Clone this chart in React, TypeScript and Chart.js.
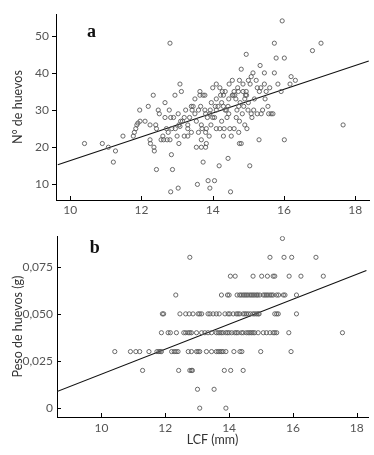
import React, { useEffect, useRef } from "react";
import { Chart, registerables } from "chart.js";
Chart.register(...registerables);

// Panel a: LCF (mm) vs N° de huevos
const lcfA = [
  10.4, 10.9, 11.07, 11.21, 11.27, 11.48, 11.77, 11.8, 11.84, 11.87, 11.9, 11.96, 11.95, 12.1, 12.19, 12.24, 12.24, 12.25,
  12.33, 12.35, 12.36, 12.4, 12.42, 12.42, 12.47, 12.5, 12.6, 12.62, 12.66, 12.66, 12.7, 12.72, 12.75, 12.78, 12.8, 12.82,
  12.84, 12.87, 12.82, 12.8, 12.85, 12.94, 13.0, 13.03, 13.05, 13.08, 13.12, 13.03, 13.05, 13.1, 13.15, 13.2, 13.2, 13.24,
  13.08, 13.3, 13.3, 13.35, 13.4, 13.4, 13.42, 13.45, 13.5, 13.54, 13.57, 13.54, 13.64, 13.64, 13.66, 13.68, 13.7, 13.68,
  13.73, 13.73, 13.68, 13.78, 13.78, 13.8, 13.8, 13.82, 13.8, 13.82, 13.87, 13.9, 13.92, 13.92, 13.85, 13.93, 13.96, 14.0,
  14.0, 14.05, 14.05, 14.07, 14.1, 14.1, 14.1, 14.15, 14.18, 14.2, 14.22, 14.25, 14.27, 14.3, 14.3, 14.32, 14.3, 14.35,
  14.38, 14.43, 14.43, 14.45, 14.48, 14.46, 14.5, 14.52, 14.55, 14.57, 14.6, 14.6, 14.62, 14.66, 14.68, 14.7, 14.72, 14.73,
  14.73, 14.75, 14.75, 14.77, 14.8, 14.8, 14.83, 14.85, 14.87, 14.9, 14.92, 14.94, 14.94, 14.96, 14.99, 15.0, 15.0, 15.04,
  15.08, 15.08, 15.1, 15.13, 15.17, 15.22, 15.3, 15.31, 15.33, 15.36, 15.4, 15.45, 15.45, 15.47, 15.5, 15.55, 15.57, 15.6,
  15.64, 15.69, 15.73, 15.73, 15.78, 15.83, 15.92, 15.95, 16.01, 16.01, 16.17, 16.2, 16.32, 16.8, 17.04, 17.66,
  14.2, 14.35, 14.55, 14.65, 14.9, 15.25, 14.4, 14.25, 13.95, 14.75, 15.15, 15.25, 14.95, 13.6, 13.5, 12.55, 12.95, 12.9,
  13.3, 13.6, 14.1, 14.85, 15.05, 15.35, 14.45,
];
const huevosA = [
  21, 21, 20, 16, 19, 23, 23, 24, 25, 26, 26.5, 27, 30, 27, 31, 26, 22, 21,
  34, 20, 19, 26, 25, 14, 30, 29, 23, 22, 32, 28, 25, 22, 24, 30, 48, 28,
  18, 14, 8, 22, 25, 34, 23, 29, 21, 37, 35, 9, 26, 27, 27, 28, 23, 30,
  25.6, 25, 26, 28, 24, 31, 30, 31, 33, 20, 10, 27, 35, 34, 31, 22, 25, 26,
  34, 16, 20, 30, 34, 29, 24, 25, 20, 21, 11, 23, 9, 29, 28, 30, 32, 36,
  28, 28, 11, 31, 30, 37, 33, 31, 15, 25, 34, 32, 35, 34, 23, 25, 31, 30,
  30, 31, 17, 33, 25, 37, 8, 23, 38, 34, 35, 25, 34, 28, 30, 36, 35, 24,
  31, 27, 21, 32, 41, 21, 29, 37, 31, 26, 34, 45, 35, 25, 30, 38, 32, 15,
  39, 29, 28, 40, 33, 38, 22, 35, 42, 29, 30, 40, 37, 33, 35, 31, 29, 36,
  29, 29, 40, 48, 44, 37, 35, 54, 44, 22, 37, 39, 38, 46, 48, 26,
  36, 35, 34, 33, 33, 36, 28, 27, 26, 38, 30, 29, 34, 30, 29, 22, 25, 28,
  23, 24, 25, 35, 37, 36, 29,
];

// Panel b: LCF (mm) vs Peso de huevos (g)
const lcfB = [
  15.67,
  12.77, 15.28, 15.72, 15.96, 16.72,
  14.04, 14.19, 14.75, 15.02, 15.2, 15.38, 15.43, 15.88, 16.25, 16.95,
  12.33, 13.76, 13.95, 14.0, 14.25, 14.33, 14.38, 14.44, 14.49, 14.54, 14.59, 14.65, 14.7, 14.75, 14.8, 14.86,
  14.9, 14.96, 15.07, 15.12, 15.17, 15.22, 15.28, 15.33, 15.38, 15.49, 15.55, 15.7, 15.75, 16.11,
  11.91, 11.95, 12.46, 12.64, 12.75, 12.87, 13.03, 13.08, 13.14, 13.34, 13.4, 13.5, 13.6, 13.69,
  13.87, 13.97, 14.02, 14.13, 14.23, 14.28, 14.33, 14.44, 14.49, 14.54, 14.6, 14.67, 14.75, 14.8, 14.86, 14.91, 14.94,
  15.43, 15.49, 15.54, 16.11,
  11.88, 12.09, 12.16, 12.35, 12.58, 12.64, 12.72, 12.77, 12.82, 12.98, 13.14, 13.24, 13.34, 13.45,
  13.6, 13.66, 13.71, 13.76, 13.81, 13.9, 13.95, 14.0, 14.08, 14.18, 14.23, 14.28, 14.39, 14.44, 14.54, 14.6,
  14.65, 14.7, 14.75, 14.8, 14.91, 15.07, 15.17, 15.28, 15.38, 15.43, 15.49, 15.87, 17.55,
  10.42, 10.91, 11.08, 11.2, 11.49, 11.74, 11.8, 11.84, 11.88, 12.2, 12.28, 12.34, 12.4, 12.72, 12.82, 12.98,
  13.03, 13.08, 13.29, 13.45, 13.6, 13.66, 13.71, 13.76, 13.81, 13.9, 14.15, 14.34, 14.4, 14.99, 15.94,
  11.29, 12.42, 12.77, 12.82, 12.85, 13.85, 14.05, 14.44,
  13.01, 13.53,
  13.08, 13.9,
];
const pesoB = [
  0.09,
  0.08, 0.08, 0.08, 0.08, 0.08,
  0.07, 0.07, 0.07, 0.07, 0.07, 0.07, 0.07, 0.07, 0.07, 0.07,
  0.06, 0.06, 0.06, 0.06, 0.06, 0.06, 0.06, 0.06, 0.06, 0.06, 0.06, 0.06, 0.06, 0.06, 0.06, 0.06,
  0.06, 0.06, 0.06, 0.06, 0.06, 0.06, 0.06, 0.06, 0.06, 0.06, 0.06, 0.06, 0.06, 0.06,
  0.05, 0.05, 0.05, 0.05, 0.05, 0.05, 0.05, 0.05, 0.05, 0.05, 0.05, 0.05, 0.05, 0.05,
  0.05, 0.05, 0.05, 0.05, 0.05, 0.05, 0.05, 0.05, 0.05, 0.05, 0.05, 0.05, 0.05, 0.05, 0.05, 0.05, 0.05,
  0.05, 0.05, 0.05, 0.05,
  0.04, 0.04, 0.04, 0.04, 0.04, 0.04, 0.04, 0.04, 0.04, 0.04, 0.04, 0.04, 0.04, 0.04,
  0.04, 0.04, 0.04, 0.04, 0.04, 0.04, 0.04, 0.04, 0.04, 0.04, 0.04, 0.04, 0.04, 0.04, 0.04, 0.04,
  0.04, 0.04, 0.04, 0.04, 0.04, 0.04, 0.04, 0.04, 0.04, 0.04, 0.04, 0.04, 0.04,
  0.03, 0.03, 0.03, 0.03, 0.03, 0.03, 0.03, 0.03, 0.03, 0.03, 0.03, 0.03, 0.03, 0.03, 0.03, 0.03,
  0.03, 0.03, 0.03, 0.03, 0.03, 0.03, 0.03, 0.03, 0.03, 0.03, 0.03, 0.03, 0.03, 0.03, 0.03,
  0.02, 0.02, 0.02, 0.02, 0.02, 0.02, 0.02, 0.02,
  0.01, 0.01,
  0, 0,
];

// Regression lines (end points)
const lineAx = [9.65, 18.38];
const lineAy = [15.3, 43.2];
const lineBx = [8.61, 18.3];
const lineBy = [0.0088, 0.073];

// Ticks
const xTicks = [10, 12, 14, 16, 18];
const yTicksA = [10, 20, 30, 40, 50];
const yTicksB = [0, 0.025, 0.05, 0.075];
const yLabelsB = ["0", "0,025", "0,050", "0,075"];

const FONT = "Lato, 'Open Sans', sans-serif";

const tickMarks = {
  id: "tickMarks",
  afterDraw(chart: any, _a: any, opts: any) {
    const ctx = chart.ctx;
    const { x, y } = chart.scales;
    const ca = chart.chartArea;
    ctx.save();
    ctx.strokeStyle = "#000";
    ctx.lineWidth = 1;
    ctx.beginPath();
    x.ticks.forEach((t: any) => {
      const px = Math.round(x.getPixelForValue(t.value)) + 0.5;
      ctx.moveTo(px, ca.bottom);
      ctx.lineTo(px, ca.bottom + opts.xDir * opts.len);
    });
    y.ticks.forEach((t: any) => {
      const py = Math.round(y.getPixelForValue(t.value)) + 0.5;
      ctx.moveTo(ca.left, py);
      ctx.lineTo(ca.left + opts.yDir * opts.len, py);
    });
    ctx.stroke();
    ctx.restore();
  },
};

const panelLetter = {
  id: "panelLetter",
  afterDraw(chart: any, _a: any, opts: any) {
    const ctx = chart.ctx;
    const { x, y } = chart.scales;
    ctx.save();
    ctx.fillStyle = "#111";
    ctx.font = "bold 18px 'Liberation Serif', 'DejaVu Serif', serif";
    ctx.textAlign = "center";
    ctx.textBaseline = "middle";
    ctx.fillText(opts.text, x.getPixelForValue(opts.x), y.getPixelForValue(opts.y));
    ctx.restore();
  },
};

function makeOptions(cfg: any) {
  return {
    responsive: false,
    animation: false as const,
    devicePixelRatio: 1,
    layout: { padding: cfg.padding },
    plugins: {
      legend: { display: false },
      tooltip: { enabled: false },
      tickMarks: cfg.tickMarks,
      panelLetter: cfg.letter,
    },
    scales: {
      x: {
        type: "linear" as const,
        min: cfg.xMin,
        max: cfg.xMax,
        afterBuildTicks: (s: any) => {
          s.ticks = xTicks.map((v) => ({ value: v }));
        },
        afterFit: (s: any) => {
          s.height = cfg.xHeight;
        },
        grid: { display: false, drawTicks: false },
        border: { display: true, color: "#000", width: 1 },
        ticks: {
          padding: cfg.xPad,
          color: "#555",
          font: { family: FONT, size: 12 },
          maxRotation: 0,
          callback: (v: any) => String(v),
        },
        title: cfg.xTitle,
      },
      y: {
        type: "linear" as const,
        min: cfg.yMin,
        max: cfg.yMax,
        afterBuildTicks: (s: any) => {
          s.ticks = cfg.yTicks.map((v: number) => ({ value: v }));
        },
        afterFit: (s: any) => {
          s.width = cfg.yWidth;
        },
        grid: { display: false, drawTicks: false },
        border: { display: true, color: "#000", width: 1 },
        ticks: {
          padding: cfg.yPad,
          color: "#555",
          font: { family: FONT, size: 12 },
          callback: cfg.yCallback,
        },
        title: {
          display: true,
          text: cfg.yTitle,
          color: "#333",
          font: { family: FONT, size: 12.5 },
          padding: { top: 10, bottom: 0 },
        },
      },
    },
  };
}

function scatterDatasets(xs: number[], ys: number[], lx: number[], ly: number[]) {
  return [
    {
      type: "scatter" as const,
      data: xs.map((v, i) => ({ x: v, y: ys[i] })),
      pointStyle: "circle",
      pointRadius: 2.1,
      pointBorderWidth: 0.9,
      pointBorderColor: "#5a5a5a",
      pointBackgroundColor: "rgba(0,0,0,0)",
      showLine: false,
    },
    {
      type: "line" as const,
      data: lx.map((v, i) => ({ x: v, y: ly[i] })),
      borderColor: "#111",
      borderWidth: 1.1,
      pointRadius: 0,
      fill: false,
    },
  ];
}

export default function App() {
  const refA = useRef<HTMLCanvasElement>(null);
  const refB = useRef<HTMLCanvasElement>(null);

  useEffect(() => {
    const chartA = new Chart(refA.current!, {
      type: "scatter",
      data: { datasets: scatterDatasets(lcfA, huevosA, lineAx, lineAy) as any },
      options: makeOptions({
        padding: { top: 12, right: 4, left: 0, bottom: 0 },
        xMin: 9.6,
        xMax: 18.39,
        yMin: 5.8,
        yMax: 55.8,
        xHeight: 25,
        yWidth: 56,
        xPad: 3,
        yPad: 7,
        yTicks: yTicksA,
        yCallback: (v: any) => String(v),
        xTitle: { display: false },
        yTitle: "N° de huevos",
        tickMarks: { xDir: -1, yDir: -1, len: 4 },
        letter: { text: "a", x: 10.6, y: 51 },
      }) as any,
      plugins: [tickMarks, panelLetter],
    });
    const chartB = new Chart(refB.current!, {
      type: "scatter",
      data: { datasets: scatterDatasets(lcfB, pesoB, lineBx, lineBy) as any },
      options: makeOptions({
        padding: { top: 3, right: 6, left: 0, bottom: 0 },
        xMin: 8.61,
        xMax: 18.35,
        yMin: -0.0047,
        yMax: 0.0912,
        xHeight: 38,
        yWidth: 57,
        xPad: 4,
        yPad: 4,
        yTicks: yTicksB,
        yCallback: (v: any) => {
          const i = yTicksB.indexOf(v);
          return i >= 0 ? yLabelsB[i] : "";
        },
        xTitle: {
          display: true,
          text: "LCF (mm)",
          color: "#333",
          font: { family: FONT, size: 12.5 },
          padding: { top: 0, bottom: 8 },
        },
        yTitle: "Peso de huevos (g)",
        tickMarks: { xDir: -1, yDir: 1, len: 4 },
        letter: { text: "b", x: 9.79, y: 0.0847 },
      }) as any,
      plugins: [tickMarks, panelLetter],
    });
    return () => {
      chartA.destroy();
      chartB.destroy();
    };
  }, []);

  return (
    <div style={{ position: "absolute", left: 0, top: 0, width: 374, height: 455, background: "#fff" }}>
      <canvas ref={refA} width={374} height={225} style={{ display: "block", width: 374, height: 225 }} />
      <canvas ref={refB} width={374} height={230} style={{ display: "block", width: 374, height: 230 }} />
    </div>
  );
}
